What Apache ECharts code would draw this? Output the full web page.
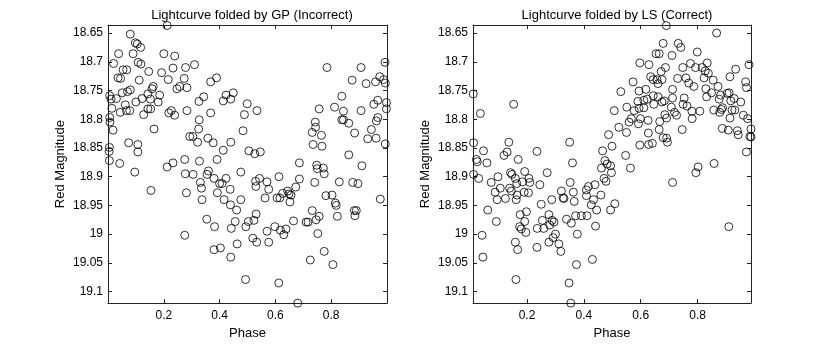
<!DOCTYPE html>
<html>
<head>
<meta charset="utf-8">
<script src="https://cdn.jsdelivr.net/npm/echarts@6/dist/echarts.min.js"></script>
<style>
  html, body { margin: 0; padding: 0; background: #fff; }
  #chart { width: 830px; height: 345px; }
</style>
</head>
<body>
<div id="chart"></div>
<script>
// folded by GP (wrong period)
const gpPhase = [
  0.006, 0.011, 0.030, 0.014, 0.006, 0.007, 0.018, 0.005, 0.004, 0.005,
  0.020, 0.038, 0.036, 0.045, 0.042, 0.054, 0.067, 0.051, 0.070, 0.080,
  0.044, 0.066, 0.062, 0.074, 0.080, 0.090, 0.078, 0.096, 0.098, 0.100,
  0.105, 0.117, 0.108, 0.118, 0.112, 0.107, 0.107, 0.122, 0.128, 0.146,
  0.143, 0.152, 0.143, 0.153, 0.162, 0.158, 0.154, 0.165, 0.185, 0.180,
  0.192, 0.200,
  0.212, 0.216, 0.218, 0.227, 0.239, 0.233, 0.239, 0.212, 0.233, 0.247,
  0.257, 0.273, 0.278, 0.283, 0.283, 0.275, 0.277, 0.281, 0.275, 0.293,
  0.304,
  0.310, 0.305, 0.321, 0.325, 0.327, 0.326, 0.328, 0.331, 0.335, 0.337,
  0.343, 0.358, 0.360, 0.355, 0.354, 0.368, 0.368, 0.377, 0.380, 0.380,
  0.382, 0.389, 0.391, 0.392, 0.400, 0.403,
  0.409, 0.413, 0.413, 0.416, 0.423, 0.423, 0.440, 0.440, 0.438, 0.439,
  0.442, 0.440, 0.449, 0.456, 0.461, 0.463, 0.476, 0.476, 0.484, 0.489,
  0.493, 0.494, 0.499, 0.503,
  0.505, 0.519, 0.523, 0.526, 0.529, 0.530, 0.531, 0.533, 0.534, 0.543,
  0.546, 0.563, 0.570, 0.570, 0.576, 0.576, 0.598,
  0.606, 0.613, 0.612, 0.616, 0.618, 0.626, 0.630, 0.638, 0.644, 0.649,
  0.652, 0.656, 0.665, 0.673, 0.686, 0.686, 0.680,
  0.710, 0.717, 0.725, 0.732, 0.732, 0.735, 0.743, 0.744, 0.741, 0.748,
  0.750, 0.746, 0.752, 0.757, 0.757, 0.765, 0.767, 0.772, 0.775, 0.775,
  0.781, 0.785,
  0.803, 0.806, 0.812, 0.815, 0.818, 0.822, 0.829, 0.838, 0.844, 0.838,
  0.844, 0.863, 0.863, 0.875, 0.877, 0.883, 0.885, 0.890, 0.884, 0.896,
  0.907, 0.907, 0.910, 0.925, 0.931, 0.944, 0.953, 0.959, 0.961, 0.962,
  0.967, 0.967, 0.974, 0.976, 0.988, 0.993, 0.994, 0.994, 0.998, 0.998
];
const gpMag = [
  18.759, 18.765, 18.764, 18.781, 18.797, 18.805, 18.819, 18.849, 18.856, 18.872,
  18.703, 18.686, 18.728, 18.729, 18.877, 18.714, 18.714, 18.754, 18.752, 18.749,
  18.788, 18.785, 18.775, 18.841, 18.652, 18.686, 18.785, 18.892, 18.667, 18.770,
  18.669, 18.675, 18.701, 18.704, 18.732, 18.844, 18.857, 18.764, 18.792, 18.717,
  18.756, 18.765, 18.782, 18.782, 18.743, 18.747, 18.924, 18.817, 18.758, 18.770,
  18.719, 18.686,
  18.637, 18.731, 18.789, 18.785, 18.793, 18.711, 18.690, 18.883, 18.876, 18.747,
  18.743, 18.729, 18.710, 18.745, 18.785, 18.870, 18.895, 18.928, 19.002, 18.830,
  18.830,
  18.705, 18.896, 18.840, 18.817, 18.801, 18.769, 18.873, 18.910, 18.920, 18.940,
  18.761, 18.833, 18.890, 18.896, 18.974, 18.735, 18.789, 18.841, 18.903, 19.027,
  18.987, 18.728, 18.870, 18.928, 18.912, 19.024,
  18.912, 18.854, 18.768, 18.940, 18.903, 18.758, 18.765, 18.840, 18.922, 18.949,
  18.990, 19.040, 18.754, 18.978, 18.958, 19.017, 18.892, 18.940, 18.820, 18.792,
  19.079, 18.987, 18.773, 18.978,
  18.855, 19.007, 18.976, 18.860, 18.908, 18.917, 18.965, 19.014, 18.785, 18.903,
  18.857, 18.937, 18.909, 18.995, 19.014, 18.922, 18.987,
  18.937, 18.900, 19.085, 18.937, 18.993, 18.929, 19.001, 18.991, 18.925, 18.930,
  18.944, 18.932, 18.977, 18.918, 18.876, 18.904, 19.120,
  18.979, 18.979, 19.045, 18.959, 18.823, 18.844, 18.805, 18.814, 18.910, 18.880,
  18.886, 18.975, 18.999, 18.782, 18.969, 18.828, 18.847, 18.885, 18.895, 19.030,
  18.933, 18.710,
  18.932, 19.053, 18.779, 18.946, 18.950, 18.969, 18.909, 18.760, 18.786, 18.801,
  18.801, 18.807, 18.862, 18.732, 18.910, 18.959, 18.968, 18.959, 18.824, 18.912,
  18.710, 18.785, 18.881, 18.738, 18.834, 18.818, 18.774, 18.735, 18.833, 18.803,
  18.797, 18.767, 18.726, 18.939, 18.731, 18.701, 18.737, 18.843, 18.771, 18.782
];

// folded by LS (right period)
const lsPhase = [
  0.011, 0.012, 0.012, 0.022, 0.025, 0.030, 0.036, 0.042, 0.045, 0.047,
  0.059, 0.062, 0.074, 0.088, 0.092, 0.095, 0.098,
  0.106, 0.119, 0.124, 0.130, 0.136, 0.139, 0.142, 0.147, 0.145, 0.153,
  0.159, 0.159, 0.161, 0.162, 0.164, 0.167, 0.169, 0.165, 0.176, 0.174,
  0.180, 0.184, 0.190, 0.192, 0.192, 0.196, 0.198, 0.205, 0.207, 0.210,
  0.235, 0.235, 0.236, 0.245, 0.250, 0.254, 0.259, 0.271, 0.277, 0.277,
  0.280, 0.287, 0.288, 0.292, 0.295, 0.300,
  0.312, 0.319, 0.321, 0.327, 0.330, 0.339, 0.348, 0.350, 0.352, 0.354,
  0.356, 0.360, 0.363, 0.366, 0.371, 0.374, 0.377, 0.391,
  0.409, 0.409, 0.411, 0.416, 0.426, 0.430, 0.434, 0.439, 0.441, 0.445,
  0.460, 0.462, 0.466, 0.471, 0.474, 0.478, 0.482, 0.487, 0.494, 0.494,
  0.497, 0.499,
  0.507, 0.509, 0.523, 0.530, 0.547, 0.550, 0.551, 0.559, 0.564, 0.567,
  0.573, 0.577, 0.590, 0.592, 0.594, 0.594, 0.597, 0.597, 0.599,
  0.611, 0.611, 0.618, 0.623, 0.626, 0.627, 0.628, 0.629, 0.635, 0.641,
  0.644, 0.646, 0.644, 0.654, 0.657, 0.661, 0.661, 0.665, 0.665, 0.667,
  0.672, 0.675, 0.675, 0.679, 0.679, 0.683, 0.687, 0.685, 0.690, 0.691,
  0.691, 0.694,
  0.708, 0.710, 0.712, 0.712, 0.712, 0.719, 0.726, 0.730, 0.732, 0.741,
  0.746, 0.748, 0.753, 0.749, 0.759, 0.763, 0.769, 0.775, 0.780, 0.781,
  0.787, 0.794, 0.793, 0.799,
  0.802, 0.808, 0.816, 0.823, 0.827, 0.829, 0.832, 0.834, 0.838, 0.849,
  0.855, 0.857, 0.858, 0.867, 0.872, 0.876, 0.878, 0.881, 0.884, 0.887,
  0.888,
  0.904, 0.908, 0.910, 0.911, 0.914, 0.914, 0.917, 0.921, 0.929, 0.931,
  0.934, 0.940, 0.943, 0.952, 0.961, 0.969, 0.972, 0.976, 0.972, 0.981,
  0.984, 0.988, 0.988
];
const lsMag = [
  18.756, 18.841, 18.896, 18.870, 18.874, 18.903, 18.790, 19.002, 19.040, 18.855,
  18.876, 18.958, 18.910, 18.927, 18.978, 18.940, 18.900,
  18.920, 18.863, 18.938, 18.857, 18.840, 18.920, 18.893, 18.896, 18.925, 18.774,
  18.903, 19.014, 19.079, 18.940, 18.912, 19.027, 18.870, 18.932, 18.966, 18.987,
  18.991, 18.909, 18.927, 18.891, 18.978, 18.997, 18.961, 18.928, 18.903, 18.910,
  18.856, 19.023, 18.990, 18.914, 18.948, 18.976, 18.990, 18.893, 19.014, 18.966,
  18.984, 18.940, 18.976, 19.006, 18.979, 19.000,
  19.017, 19.030, 18.925, 18.937, 18.938, 18.974, 19.085, 18.840, 18.910, 19.120,
  18.981, 18.876, 18.927, 18.943, 18.968, 19.053, 19.000, 18.968,
  18.923, 18.933, 18.968, 18.917, 18.949, 19.044, 18.940, 18.914, 18.986, 18.958,
  18.932, 18.885, 18.855, 18.903, 18.872, 18.908, 18.878, 18.827, 18.881, 18.958,
  18.893, 18.847,
  18.785, 18.947, 18.814, 18.752, 18.863, 18.823, 18.779, 18.805, 18.885, 18.799,
  18.735, 18.785, 18.769, 18.808, 18.781, 18.751, 18.702, 18.845, 18.799,
  18.767, 18.780, 18.748, 18.765, 18.802, 18.824, 18.844, 18.705, 18.726, 18.842,
  18.759, 18.774, 18.731, 18.686, 18.731, 18.738, 18.761, 18.818, 18.686, 18.804,
  18.717, 18.770, 18.731, 18.668, 18.832, 18.768, 18.710, 18.792, 18.637, 18.833,
  18.798, 18.840,
  18.779, 18.689, 18.910, 18.748, 18.763, 18.788, 18.793, 18.729, 18.668, 18.675,
  18.818, 18.710, 18.763, 18.774, 18.728, 18.777, 18.737, 18.703, 18.786, 18.799,
  18.743, 18.893, 18.710, 18.683,
  18.883, 18.786, 18.710, 18.728, 18.716, 18.747, 18.761, 18.702, 18.720, 18.754,
  18.732, 18.784, 18.877, 18.650, 18.743, 18.765, 18.788, 18.758, 18.783, 18.816,
  18.780,
  18.755, 18.819, 18.987, 18.754, 18.726, 18.798, 18.768, 18.784, 18.764, 18.784,
  18.713, 18.820, 18.827, 18.770, 18.793, 18.735, 18.745, 18.799, 18.857, 18.705,
  18.830, 18.817, 18.831
];

const magTicks = [18.65, 18.7, 18.75, 18.8, 18.85, 18.9, 18.95, 19, 19.05, 19.1];
const phaseTicks = [0.2, 0.4, 0.6, 0.8];
const titles = ['Lightcurve folded by GP (Incorrect)', 'Lightcurve folded by LS (Correct)'];

const font = 'Liberation Sans, Arial, Helvetica, sans-serif';
const lineStyle = { color: '#222', width: 1 };

function pairs(xs, ys) {
  return xs.map((x, i) => [x, ys[i]]);
}

function fmt(v) {
  return String(+(+v).toFixed(2));
}

// one panel = bottom/top x axes + left/right y axes, matlab style box
function xAxes(gridIndex, min, max) {
  const base = {
    type: 'value', gridIndex: gridIndex, min: min, max: max,
    splitLine: { show: false },
    axisLine: { show: true, onZero: false, lineStyle: lineStyle },
    axisTick: { show: true, inside: true, length: 4, customValues: phaseTicks, lineStyle: lineStyle }
  };
  return [
    Object.assign({}, base, {
      position: 'bottom',
      name: 'Phase', nameLocation: 'middle', nameGap: 21,
      nameTextStyle: { fontFamily: font, fontSize: 13, color: '#000' },
      axisLabel: { show: true, customValues: phaseTicks, margin: 7, formatter: fmt,
        fontFamily: font, fontSize: 12, color: '#000' }
    }),
    Object.assign({}, base, { position: 'top', axisLabel: { show: false } })
  ];
}

function yAxes(gridIndex) {
  const base = {
    type: 'value', gridIndex: gridIndex, min: 18.636, max: 19.12, inverse: true,
    splitLine: { show: false },
    axisLine: { show: true, onZero: false, lineStyle: lineStyle },
    axisTick: { show: true, inside: true, length: 4, customValues: magTicks, lineStyle: lineStyle }
  };
  return [
    Object.assign({}, base, {
      position: 'left',
      name: 'Red Magnitude', nameLocation: 'middle', nameGap: 41,
      nameTextStyle: { fontFamily: font, fontSize: 13, color: '#000' },
      axisLabel: { show: true, customValues: magTicks, margin: 5, formatter: fmt,
        fontFamily: font, fontSize: 12, color: '#000' }
    }),
    Object.assign({}, base, { position: 'right', axisLabel: { show: false } })
  ];
}

function scatter(xIdx, yIdx, data) {
  return {
    type: 'scatter', xAxisIndex: xIdx, yAxisIndex: yIdx,
    data: data, symbol: 'circle', symbolSize: 8, clip: false,
    itemStyle: { color: 'rgba(0,0,0,0)', borderColor: '#000', borderWidth: 1 },
    emphasis: { disabled: true }
  };
}

const chart = echarts.init(document.getElementById('chart'), null, { renderer: 'canvas' });

const option = {
  animation: false,
  backgroundColor: '#fff',
  title: [
    { text: titles[0], left: 247, top: 4, textAlign: 'center',
      textStyle: { fontFamily: font, fontSize: 13, fontWeight: 'normal', color: '#000' } },
    { text: titles[1], left: 612, top: 4, textAlign: 'center',
      textStyle: { fontFamily: font, fontSize: 13, fontWeight: 'normal', color: '#000' } }
  ],
  grid: [
    { left: 108, top: 25, width: 279, height: 280 },
    { left: 473, top: 25, width: 278, height: 280 }
  ],
  xAxis: xAxes(0, 0, 1).concat(xAxes(1, 0.01, 0.988)),
  yAxis: yAxes(0).concat(yAxes(1)),
  series: [
    scatter(0, 0, pairs(gpPhase, gpMag)),
    scatter(2, 2, pairs(lsPhase, lsMag))
  ]
};

chart.setOption(option);
</script>
</body>
</html>
